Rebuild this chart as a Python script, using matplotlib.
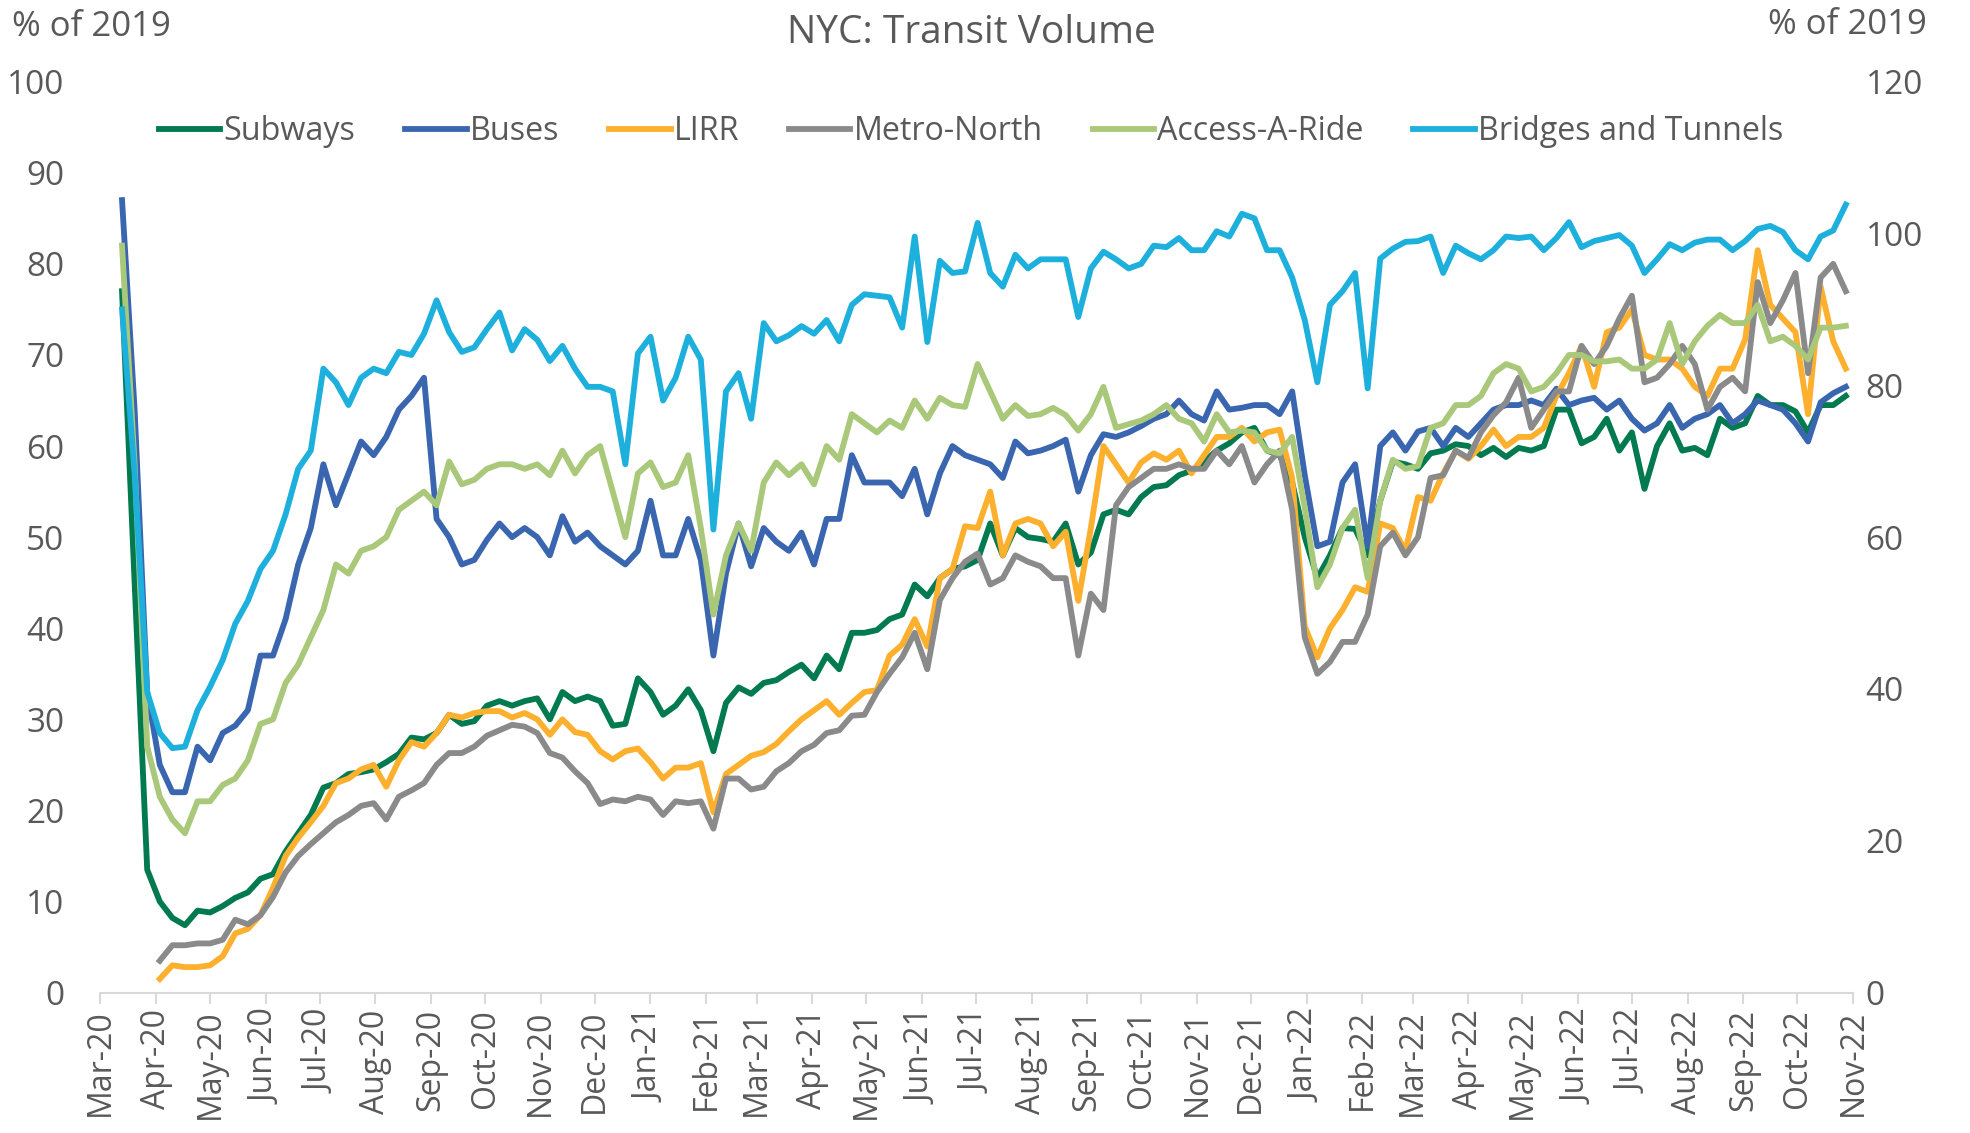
import numpy as np
import pandas as pd
import matplotlib
matplotlib.use('Agg')
import matplotlib.pyplot as plt
import matplotlib.dates as mdates

plt.rcParams['font.family'] = ['Open Sans', 'DejaVu Sans']
TXT = '#595959'

# weekly readings, first point 13 Mar 2020
dates = pd.date_range('2020-03-13', periods=138, freq='7D')
nan = np.nan

subways = [77, 45, 13.5, 10, 8.2, 7.4, 9, 8.8, 9.5, 10.4,
           11, 12.5, 13, 15.5, 17.5, 19.5, 22.5, 23, 24, 24.2,
           24.5, 25.3, 26.2, 28, 27.8, 28.5, 30.5, 29.5, 29.8, 31.5,
           32, 31.5, 32, 32.3, 30, 33, 32, 32.5, 32, 29.3,
           29.5, 34.5, 33, 30.5, 31.5, 33.3, 31, 26.5, 31.8, 33.5,
           32.8, 34, 34.3, 35.2, 36, 34.5, 37, 35.5, 39.5, 39.5,
           39.8, 41, 41.5, 44.8, 43.5, 45.5, 46.5, 46.8, 47.5, 51.5,
           48, 51, 50, 49.8, 49.5, 51.5, 47, 48.3, 52.5, 53,
           52.5, 54.4, 55.5, 55.7, 56.8, 57.3, 58.3, 59.5, 60.3, 61.5,
           62, 59.5, 59, 56, 50, 45.5, 48, 51, 50.9, 48,
           54, 58.3, 58, 57.5, 59.2, 59.5, 60.2, 60, 59, 59.8,
           58.8, 59.8, 59.5, 60, 64, 64, 60.3, 61, 63, 59.5,
           61.5, 55.3, 60, 62.5, 59.5, 59.8, 59, 63, 62, 62.5,
           65.5, 64.5, 64.5, 63.8, 61.5, 64.5, 64.5, 65.5]

buses = [87, 64, 33, 25, 22, 22, 27, 25.5, 28.5, 29.3,
         31, 37, 37, 41, 47, 51, 58, 53.5, 57, 60.5,
         59, 61, 64, 65.5, 67.5, 52, 50, 47, 47.5, 49.7,
         51.5, 50, 51, 50, 48, 52.3, 49.5, 50.5, 49, 48,
         47, 48.5, 54, 48, 48, 52, 47.5, 37, 46, 51.5,
         46.8, 51, 49.5, 48.5, 50.5, 47, 52, 52, 59, 56,
         56, 56, 54.5, 57.5, 52.5, 57, 60, 59, 58.5, 58,
         56.5, 60.5, 59.2, 59.5, 60, 60.7, 55, 59, 61.3, 61,
         61.5, 62.2, 63, 63.5, 65, 63.5, 62.8, 66, 64, 64.2,
         64.5, 64.5, 63.5, 66, 56.8, 49, 49.5, 56, 58, 49,
         60, 61.5, 59.5, 61.6, 62, 60, 62, 61, 62.5, 64,
         64.5, 64.5, 65, 64.5, 66.3, 64.5, 65, 65.3, 64, 65,
         63, 61.7, 62.5, 64.5, 62, 63, 63.5, 64.5, 62.5, 63.5,
         65, 64.5, 64, 62.5, 60.5, 64.8, 65.8, 66.5]

lirr = [nan, nan, nan, 1.5, 3, 2.8, 2.8, 3, 4, 6.5,
        7, 8.5, 11.5, 15, 17, 18.7, 20.5, 23, 23.5, 24.5,
        25, 22.6, 25.5, 27.5, 27, 28.5, 30.5, 30.2, 30.7, 30.9,
        30.9, 30.2, 30.7, 30, 28.3, 30, 28.6, 28.3, 26.5, 25.6,
        26.5, 26.8, 25.3, 23.5, 24.7, 24.7, 25.2, 19.8, 24, 25,
        26, 26.4, 27.3, 28.7, 30, 31, 32, 30.5, 31.8, 33,
        33.2, 37, 38.2, 41, 38, 45.5, 46.5, 51.2, 51, 55,
        48, 51.5, 52, 51.5, 49, 50.6, 43, 51, 60, 58,
        56, 58.2, 59.2, 58.5, 59.5, 57, 59, 61, 61, 62,
        60.5, 61.5, 61.8, 56.5, 40.2, 36.8, 40, 42, 44.5, 44,
        51.5, 51, 48.5, 54.4, 54, 57, 59.5, 58.6, 60, 61.8,
        60, 61, 61, 62, 65.5, 68, 71, 66.5, 72.5, 73,
        75, 70, 69.5, 69.5, 68.5, 66.5, 65.5, 68.5, 68.5, 71.7,
        81.5, 75.5, 74, 72.5, 63.5, 77.5, 71.5, 68.5]

metro_north = [nan, nan, nan, 3.5, 5.2, 5.2, 5.4, 5.4, 5.8, 8,
               7.5, 8.5, 10.5, 13.2, 15, 16.3, 17.5, 18.7, 19.5, 20.5,
               20.8, 19, 21.5, 22.2, 23, 25, 26.3, 26.3, 27, 28.2,
               28.8, 29.4, 29.2, 28.5, 26.3, 25.8, 24.3, 23, 20.7, 21.2,
               21, 21.5, 21.2, 19.5, 21, 20.8, 21, 18, 23.5, 23.5,
               22.3, 22.6, 24.3, 25.2, 26.5, 27.2, 28.5, 28.8, 30.4, 30.5,
               33, 35, 36.8, 39.5, 35.5, 43.1, 45.5, 47.3, 48.2, 44.8,
               45.5, 48, 47.3, 46.8, 45.5, 45.5, 37, 43.8, 42, 53.5,
               55.5, 56.5, 57.5, 57.5, 58, 57.5, 57.5, 59.5, 58, 60,
               56, 58, 59.5, 53, 39, 35, 36.3, 38.5, 38.5, 41.5,
               49, 50.5, 48, 50, 56.5, 56.8, 59.5, 58.7, 61.5, 63.4,
               64.8, 67.5, 62, 64, 66, 66, 71, 69, 71, 74,
               76.5, 67, 67.5, 69, 71, 69, 64, 66.5, 67.5, 66,
               78, 73.5, 76, 79, 68, 78.5, 80, 77]

access_a_ride = [82, 58, 27, 21.5, 19, 17.5, 21, 21, 22.8, 23.5,
                 25.5, 29.5, 30, 34, 36, 39, 42, 47, 46, 48.5,
                 49, 50, 53, 54, 55, 53.5, 58.3, 55.8, 56.3, 57.5,
                 58, 58, 57.5, 58, 56.8, 59.5, 57, 59, 60, 55,
                 50, 57, 58.2, 55.5, 56, 59, 51, 41.5, 48, 51.5,
                 48.5, 56, 58.2, 56.8, 58, 55.8, 60, 58.5, 63.5, 62.5,
                 61.5, 62.8, 62, 65, 63, 65.3, 64.5, 64.3, 69, 66,
                 63, 64.5, 63.3, 63.5, 64.2, 63.4, 61.7, 63.5, 66.5, 62,
                 62.4, 62.8, 63.5, 64.5, 63, 62.5, 60.5, 63.5, 61.5, 61.7,
                 61.5, 59.5, 59.2, 61, 53.2, 44.5, 47, 51, 53, 45.5,
                 54, 58.5, 57.5, 57.8, 62, 62.5, 64.5, 64.5, 65.5, 68,
                 69, 68.5, 66, 66.5, 68, 70, 70, 69.3, 69.3, 69.5,
                 68.5, 68.5, 69.5, 73.5, 69, 71.5, 73.2, 74.4, 73.5, 73.5,
                 75.5, 71.5, 72, 71, 69.5, 73, 73, 73.2]

# right axis
bridges_tunnels = [90, 68.4, 39.6, 34.2, 32.2, 32.4, 37.2, 40.3, 43.8, 48.6,
                   51.6, 55.8, 58.2, 63, 69, 71.4, 82.2, 80.4, 77.4, 81,
                   82.2, 81.6, 84.4, 84, 86.8, 91.2, 87, 84.4, 85, 87.4,
                   89.6, 84.6, 87.4, 86, 83.2, 85.2, 82.2, 79.8, 79.8, 79.2,
                   69.6, 84.2, 86.4, 78, 81, 86.4, 83.4, 61, 79.2, 81.6,
                   75.6, 88.2, 85.8, 86.6, 87.8, 86.8, 88.6, 85.8, 90.6, 92,
                   91.8, 91.6, 87.6, 99.6, 85.7, 96.4, 94.8, 95, 101.4, 94.8,
                   93, 97.2, 95.4, 96.6, 96.6, 96.6, 89, 95.4, 97.6, 96.6,
                   95.4, 96, 98.4, 98.2, 99.4, 97.8, 97.8, 100.3, 99.6, 102.6,
                   102, 97.8, 97.8, 94.2, 88.6, 80.4, 90.6, 92.4, 94.8, 79.6,
                   96.7, 98, 98.9, 99, 99.6, 94.8, 98.4, 97.4, 96.6, 97.8,
                   99.6, 99.4, 99.6, 97.8, 99.4, 101.5, 98.2, 99, 99.4, 99.8,
                   98.4, 94.8, 96.6, 98.6, 97.8, 98.8, 99.2, 99.2, 97.8, 99,
                   100.6, 101, 100.2, 97.8, 96.6, 99.6, 100.4, 103.8]

left_series = [('Subways', subways, '#007A4E'),
               ('Buses', buses, '#3A66B0'),
               ('LIRR', lirr, '#FCB02E'),
               ('Metro-North', metro_north, '#8A8A8A'),
               ('Access-A-Ride', access_a_ride, '#A9C879')]

fig = plt.figure(figsize=(19.7, 11.33), dpi=100)
ax = fig.add_axes([0.051, 0.1239, 0.8896, 0.804])
ax2 = ax.twinx()

handles = []
for name, vals, col in left_series:
    h, = ax.plot(dates, vals, color=col, lw=4.2, label=name, solid_joinstyle='round')
    handles.append(h)
h, = ax2.plot(dates, bridges_tunnels, color='#1EB0DC', lw=4.2, label='Bridges and Tunnels',
              solid_joinstyle='round')
handles.append(h)

ax.set_xlim(pd.Timestamp('2020-03-01'), pd.Timestamp('2022-11-01'))
ax.set_ylim(0, 100)
ax2.set_ylim(0, 120)
ax.set_yticks(range(0, 101, 10))
ax2.set_yticks(range(0, 121, 20))

ax.xaxis.set_major_locator(mdates.MonthLocator())
ax.xaxis.set_major_formatter(mdates.DateFormatter('%b-%y'))

for a in (ax, ax2):
    for s in a.spines.values():
        s.set_visible(False)
ax.spines['bottom'].set_visible(True)
ax.spines['bottom'].set_color('#D9D9D9')
ax.spines['bottom'].set_linewidth(1.5)

ax.tick_params(axis='x', direction='out', length=8, width=1.5, color='#D9D9D9',
               labelsize=23, labelcolor=TXT, labelrotation=90, pad=4)
ax.tick_params(axis='y', length=0, labelsize=24, labelcolor=TXT, pad=26)
ax2.tick_params(axis='y', length=0, labelsize=24, labelcolor=TXT, pad=9)

fig.text(0.493, 0.971, 'NYC: Transit Volume', ha='center', va='center', fontsize=28, color=TXT)
fig.text(0.006, 0.976, '% of 2019', ha='left', va='center', fontsize=25, color=TXT)
fig.text(0.978, 0.978, '% of 2019', ha='right', va='center', fontsize=25, color=TXT)

fig.legend(handles=handles, loc='center', bbox_to_anchor=(0.493, 0.884), ncol=6,
           frameon=False, fontsize=23.2, labelcolor=TXT, handlelength=1.9,
           handletextpad=0.1, columnspacing=1.55)

fig.savefig('out.png', dpi=100)
